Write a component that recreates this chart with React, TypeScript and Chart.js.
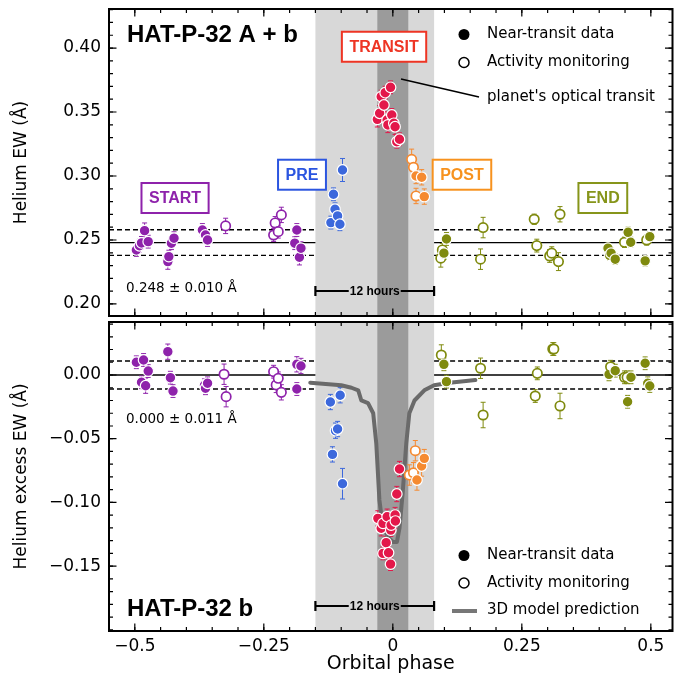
import React, { useEffect, useRef } from 'react';
import { Chart, registerables } from 'chart.js';

Chart.register(...registerables);

const SANS = '"DejaVu Sans", sans-serif';
const BOLD = '"Liberation Sans", Arial, sans-serif';

// ---------- axes ----------
const xRange = [-0.55, 0.542];
const topYRange = [0.1906, 0.4305];
const bottomYRange = [-0.2009, 0.0416];
const xTickValues = [-0.5, -0.25, 0, 0.25, 0.5];
const xTickLabels = ['\u22120.5', '\u22120.25', '0', '0.25', '0.5'];
const topYTickValues = [0.2, 0.25, 0.3, 0.35, 0.4];
const topYTickLabels = ['0.20', '0.25', '0.30', '0.35', '0.40'];
const bottomYTickValues = [-0.15, -0.1, -0.05, 0.0];
const bottomYTickLabels = ['\u22120.15', '\u22120.10', '\u22120.05', '0.00'];

// ---------- regions ----------
const shadeRegion = [-0.15, 0.08];
const opticalTransitRegion = [-0.03, 0.03];

// ---------- reference levels ----------
const topMean = 0.248;
const topStd = 0.01;
const bottomMean = 0.0;
const bottomStd = 0.011;

// ---------- TOP PANEL: Helium EW ----------
const startTopPhase = [-0.497, -0.491, -0.487, -0.481, -0.474, -0.436, -0.434, -0.429, -0.424, -0.369, -0.363, -0.359, -0.324, -0.231, -0.228, -0.222, -0.216, -0.19, -0.186, -0.181, -0.178];
const startTopEW = [0.2422, 0.2455, 0.2477, 0.2573, 0.2487, 0.2331, 0.237, 0.2475, 0.2514, 0.2578, 0.2539, 0.25, 0.261, 0.2539, 0.2633, 0.2565, 0.2696, 0.2475, 0.2578, 0.2365, 0.2436];
const startTopErr = [0.005, 0.005, 0.005, 0.006, 0.005, 0.006, 0.005, 0.005, 0.005, 0.005, 0.005, 0.005, 0.006, 0.005, 0.005, 0.005, 0.006, 0.005, 0.005, 0.006, 0.005];
const startTopOpen = [0, 0, 0, 0, 0, 0, 0, 0, 0, 0, 0, 0, 1, 1, 1, 1, 1, 0, 0, 0, 0];

const preTopPhase = [-0.12, -0.115, -0.112, -0.107, -0.1025, -0.0975];
const preTopEW = [0.2636, 0.2857, 0.274, 0.2688, 0.2623, 0.3047];
const preTopErr = [0.005, 0.005, 0.005, 0.005, 0.005, 0.009];
const preTopOpen = [0, 0, 0, 0, 0, 0];

const transitTopPhase = [-0.03, -0.0256, -0.0225, -0.0173, -0.0148, -0.011, -0.0096, -0.0044, -0.002, 0.002, 0.0044, 0.0077, 0.0129];
const transitTopEW = [0.3443, 0.349, 0.362, 0.3555, 0.3651, 0.3438, 0.3399, 0.3693, 0.3477, 0.3412, 0.3385, 0.3268, 0.3287];
const transitTopErr = [0.006, 0.006, 0.005, 0.005, 0.005, 0.006, 0.006, 0.005, 0.005, 0.006, 0.006, 0.005, 0.005];
const transitTopOpen = [0, 0, 0, 0, 0, 0, 0, 0, 0, 0, 0, 0, 0];

const postTopPhase = [0.0365, 0.04, 0.045, 0.045, 0.056, 0.061];
const postTopEW = [0.313, 0.3068, 0.3, 0.2844, 0.299, 0.2839];
const postTopErr = [0.008, 0.006, 0.006, 0.006, 0.006, 0.006];
const postTopOpen = [1, 1, 0, 1, 0, 0];

const endTopPhase = [0.093, 0.096, 0.099, 0.104, 0.17, 0.175, 0.274, 0.279, 0.304, 0.308, 0.321, 0.324, 0.417, 0.42, 0.423, 0.431, 0.449, 0.456, 0.461, 0.489, 0.492, 0.498];
const endTopEW = [0.2358, 0.2422, 0.2397, 0.2508, 0.235, 0.2597, 0.2662, 0.2456, 0.2375, 0.2397, 0.2331, 0.2701, 0.2436, 0.238, 0.2397, 0.235, 0.2482, 0.256, 0.2482, 0.2337, 0.25, 0.2526];
const endTopErr = [0.007, 0.005, 0.005, 0.005, 0.008, 0.008, 0.004, 0.005, 0.005, 0.005, 0.007, 0.006, 0.004, 0.004, 0.004, 0.004, 0.004, 0.004, 0.004, 0.004, 0.004, 0.004];
const endTopOpen = [1, 1, 0, 0, 1, 1, 1, 1, 1, 1, 1, 1, 0, 0, 0, 0, 1, 0, 0, 0, 1, 0];

// ---------- BOTTOM PANEL: Helium excess EW ----------
const startBotPhase = [-0.497, -0.487, -0.483, -0.479, -0.474, -0.436, -0.431, -0.426, -0.365, -0.363, -0.359, -0.327, -0.323, -0.231, -0.226, -0.222, -0.216, -0.186, -0.186, -0.178];
const startBotEW = [0.01, -0.0057, 0.0118, -0.0084, 0.0031, 0.0183, -0.0021, -0.0126, -0.008, -0.0104, -0.0065, 0.0006, -0.017, 0.0026, -0.0078, -0.0026, -0.0136, 0.0084, -0.011, 0.0071];
const startBotErr = [0.005, 0.005, 0.005, 0.006, 0.005, 0.006, 0.005, 0.005, 0.005, 0.005, 0.005, 0.008, 0.008, 0.005, 0.006, 0.005, 0.006, 0.006, 0.005, 0.006];
const startBotOpen = [0, 0, 0, 0, 0, 0, 0, 0, 0, 0, 0, 1, 1, 1, 1, 1, 1, 0, 0, 0];

const preBotPhase = [-0.121, -0.117, -0.111, -0.107, -0.102, -0.0975];
const preBotEW = [-0.0212, -0.0623, -0.0437, -0.0424, -0.0159, -0.0853];
const preBotErr = [0.006, 0.006, 0.006, 0.006, 0.006, 0.012];
const preBotOpen = [0, 0, 0, 0, 0, 0];

const transitBotPhase = [-0.029, -0.0225, -0.019, -0.019, -0.0129, -0.011, -0.0083, -0.0044, -0.004, -0.0033, 0.0044, 0.005, 0.0077, 0.0129];
const transitBotEW = [-0.1125, -0.1203, -0.1164, -0.14, -0.1316, -0.1112, -0.1395, -0.1484, -0.1217, -0.1178, -0.1099, -0.1146, -0.0934, -0.0738];
const transitBotErr = [0.006, 0.006, 0.006, 0.005, 0.005, 0.006, 0.005, 0.005, 0.005, 0.005, 0.006, 0.006, 0.006, 0.006];
const transitBotOpen = [0, 0, 0, 0, 0, 0, 0, 0, 0, 0, 0, 0, 0, 0];

const postBotPhase = [0.032, 0.04, 0.0436, 0.0468, 0.0558, 0.061];
const postBotEW = [-0.0785, -0.0767, -0.0594, -0.0824, -0.0714, -0.0654];
const postBotErr = [0.008, 0.008, 0.008, 0.008, 0.008, 0.007];
const postBotOpen = [1, 1, 1, 0, 0, 0];

const endBotPhase = [0.094, 0.099, 0.104, 0.17, 0.175, 0.276, 0.28, 0.31, 0.312, 0.324, 0.419, 0.422, 0.431, 0.449, 0.454, 0.455, 0.4615, 0.489, 0.494, 0.498];
const endBotEW = [0.0157, 0.0084, -0.0052, 0.0053, -0.0314, -0.0165, 0.0013, 0.0204, 0.0204, -0.0243, 0.0005, 0.0065, 0.0034, -0.0018, -0.0018, -0.021, -0.0018, 0.0092, -0.0065, -0.0086];
const endBotErr = [0.008, 0.005, 0.005, 0.008, 0.01, 0.005, 0.005, 0.005, 0.005, 0.01, 0.005, 0.005, 0.005, 0.005, 0.005, 0.005, 0.005, 0.005, 0.005, 0.005];
const endBotOpen = [1, 0, 0, 1, 1, 1, 1, 1, 1, 1, 0, 1, 0, 1, 1, 0, 0, 0, 0, 0];

// ---------- 3D model prediction ----------
const modelPhase = [-0.16, -0.13, -0.1, -0.08, -0.067, -0.061, -0.048, -0.038, -0.032, -0.026, -0.021, -0.01, 0.0, 0.008, 0.013, 0.019, 0.026, 0.032, 0.042, 0.061, 0.08, 0.11, 0.16];
const modelEW = [-0.006, -0.007, -0.008, -0.01, -0.012, -0.02, -0.022, -0.03, -0.054, -0.098, -0.114, -0.127, -0.131, -0.131, -0.12, -0.093, -0.054, -0.03, -0.02, -0.012, -0.008, -0.006, -0.004];

// ---------- colours ----------
const C_START = '#8e22ab';
const C_PRE = '#3c68dc';
const C_TRANSIT = '#e3184a';
const C_POST = '#f58a30';
const C_END = '#7f8a0e';

type Group = { color: string; phase: number[]; ew: number[]; err: number[]; open: number[] };

const topGroups: Group[] = [
  { color: C_START, phase: startTopPhase, ew: startTopEW, err: startTopErr, open: startTopOpen },
  { color: C_PRE, phase: preTopPhase, ew: preTopEW, err: preTopErr, open: preTopOpen },
  { color: C_TRANSIT, phase: transitTopPhase, ew: transitTopEW, err: transitTopErr, open: transitTopOpen },
  { color: C_POST, phase: postTopPhase, ew: postTopEW, err: postTopErr, open: postTopOpen },
  { color: C_END, phase: endTopPhase, ew: endTopEW, err: endTopErr, open: endTopOpen },
];
const bottomGroups: Group[] = [
  { color: C_START, phase: startBotPhase, ew: startBotEW, err: startBotErr, open: startBotOpen },
  { color: C_PRE, phase: preBotPhase, ew: preBotEW, err: preBotErr, open: preBotOpen },
  { color: C_TRANSIT, phase: transitBotPhase, ew: transitBotEW, err: transitBotErr, open: transitBotOpen },
  { color: C_POST, phase: postBotPhase, ew: postBotEW, err: postBotErr, open: postBotOpen },
  { color: C_END, phase: endBotPhase, ew: endBotEW, err: endBotErr, open: endBotOpen },
];

const phaseLabels = [
  { text: 'START', x: -0.422, y: 0.2828, color: '#8e22ab' },
  { text: 'PRE', x: -0.176, y: 0.301, color: '#2b55e0' },
  { text: 'TRANSIT', x: -0.017, y: 0.401, color: '#ee3524' },
  { text: 'POST', x: 0.134, y: 0.301, color: '#f7921e' },
  { text: 'END', x: 0.407, y: 0.2828, color: '#86951a' },
];

function makeDataset(g: Group) {
  return {
    data: g.phase.map((x, i) => ({ x, y: g.ew[i] })),
    errors: g.err,
    errColor: g.color,
    pointBackgroundColor: g.open.map((o) => (o ? '#ffffff' : g.color)),
    pointBorderColor: g.open.map((o) => (o ? g.color : '#ffffff')),
    pointBorderWidth: g.open.map((o) => (o ? 1.7 : 1.2)),
    pointRadius: g.open.map((o) => (o ? 4.7 : 5.3)),
    pointHoverRadius: 0,
    order: 0,
  };
}

function makeDecor(p: any) {
  return {
    id: 'decor',
    beforeDatasetsDraw(chart: any) {
      const { ctx, chartArea: a, scales } = chart;
      const xs = scales.x;
      const ys = scales.y;
      ctx.save();
      const s0 = xs.getPixelForValue(shadeRegion[0]);
      const s1 = xs.getPixelForValue(shadeRegion[1]);
      ctx.fillStyle = '#d8d8d8';
      ctx.fillRect(s0, a.top, s1 - s0, a.bottom - a.top);
      const d0 = xs.getPixelForValue(opticalTransitRegion[0]);
      const d1 = xs.getPixelForValue(opticalTransitRegion[1]);
      ctx.fillStyle = '#9b9b9b';
      ctx.fillRect(d0, a.top, d1 - d0, a.bottom - a.top);

      // reference lines
      const segs = [
        [a.left, s0],
        [s1, a.right],
      ];
      const lines: [number, number[]][] = [
        [p.mean, []],
        [p.mean + p.std, [5, 3]],
        [p.mean - p.std, [5, 3]],
      ];
      ctx.strokeStyle = '#000';
      ctx.lineWidth = 1.3;
      lines.forEach(([v, dash]) => {
        const py = ys.getPixelForValue(v);
        ctx.setLineDash(dash);
        segs.forEach(([x0, x1]) => {
          ctx.beginPath();
          ctx.moveTo(x0, py);
          ctx.lineTo(x1, py);
          ctx.stroke();
        });
      });
      ctx.setLineDash([]);

      // 12 hours bar
      const by = a.bottom - 25;
      ctx.font = `bold 12px ${BOLD}`;
      const lab = '12 hours';
      const tw = ctx.measureText(lab).width;
      const mid = (s0 + s1) / 2;
      ctx.lineWidth = 2.2;
      ctx.beginPath();
      ctx.moveTo(s0, by);
      ctx.lineTo(mid - tw / 2 - 1, by);
      ctx.moveTo(mid + tw / 2 + 1, by);
      ctx.lineTo(s1, by);
      ctx.moveTo(s0, by - 5);
      ctx.lineTo(s0, by + 5);
      ctx.moveTo(s1, by - 5);
      ctx.lineTo(s1, by + 5);
      ctx.stroke();
      ctx.fillStyle = '#000';
      ctx.textAlign = 'center';
      ctx.textBaseline = 'middle';
      ctx.fillText(lab, mid, by + 0.5);

      // error bars
      chart.data.datasets.forEach((ds: any) => {
        if (!ds.errors) return;
        ctx.strokeStyle = ds.errColor;
        ctx.lineWidth = 1;
        ds.data.forEach((pt: any, i: number) => {
          const px = xs.getPixelForValue(pt.x);
          const y0 = ys.getPixelForValue(pt.y - ds.errors[i]);
          const y1 = ys.getPixelForValue(pt.y + ds.errors[i]);
          ctx.beginPath();
          ctx.moveTo(px, y0);
          ctx.lineTo(px, y1);
          ctx.moveTo(px - 2.5, y0);
          ctx.lineTo(px + 2.5, y0);
          ctx.moveTo(px - 2.5, y1);
          ctx.lineTo(px + 2.5, y1);
          ctx.stroke();
        });
      });
      ctx.restore();
    },
    afterDraw(chart: any) {
      const { ctx, chartArea: a, scales } = chart;
      const xs = scales.x;
      const ys = scales.y;
      ctx.save();
      // frame
      ctx.strokeStyle = '#000';
      ctx.lineWidth = 2;
      ctx.strokeRect(a.left, a.top, a.right - a.left, a.bottom - a.top);
      // ticks
      ctx.lineWidth = 1.2;
      const tick = (px: number, len: number, vertical: boolean) => {
        ctx.beginPath();
        if (vertical) {
          ctx.moveTo(px, a.bottom);
          ctx.lineTo(px, a.bottom - len);
          ctx.moveTo(px, a.top);
          ctx.lineTo(px, a.top + len);
        } else {
          ctx.moveTo(a.left, px);
          ctx.lineTo(a.left + len, px);
          ctx.moveTo(a.right, px);
          ctx.lineTo(a.right - len, px);
        }
        ctx.stroke();
      };
      for (let k = -11; k <= 10; k++) {
        const v = k * 0.05;
        if (v < xs.min || v > xs.max) continue;
        tick(xs.getPixelForValue(v), 4, true);
      }
      xTickValues.forEach((v) => tick(xs.getPixelForValue(v), 7.5, true));
      for (let k = Math.ceil(ys.min * 100); k <= Math.floor(ys.max * 100); k++) {
        tick(ys.getPixelForValue(k / 100), 4, false);
      }
      p.yTicks.forEach((v: number) => tick(ys.getPixelForValue(v), 7.5, false));

      // title
      ctx.fillStyle = '#000';
      ctx.textAlign = 'left';
      ctx.textBaseline = 'alphabetic';
      ctx.font = `bold 24px ${BOLD}`;
      ctx.fillText(p.title, a.left + 18, p.titleY);
      // stat text
      ctx.font = `13.5px ${SANS}`;
      ctx.fillText(p.statText, a.left + 17, p.statY);

      // phase labels
      (p.boxes || []).forEach((b: any) => {
        ctx.font = `bold 16px ${BOLD}`;
        const tw = ctx.measureText(b.text).width;
        const cx = xs.getPixelForValue(b.x);
        const cy = ys.getPixelForValue(b.y);
        const w = tw + 15;
        const h = 30;
        ctx.fillStyle = '#fff';
        ctx.fillRect(cx - w / 2, cy - h / 2, w, h);
        ctx.lineWidth = 2;
        ctx.strokeStyle = b.color;
        ctx.strokeRect(cx - w / 2, cy - h / 2, w, h);
        ctx.fillStyle = b.color;
        ctx.textAlign = 'center';
        ctx.textBaseline = 'middle';
        ctx.fillText(b.text, cx, cy + 1);
      });

      // legend
      ctx.textAlign = 'left';
      ctx.textBaseline = 'middle';
      ctx.font = `15px ${SANS}`;
      p.legend.forEach((it: any) => {
        ctx.fillStyle = '#000';
        ctx.strokeStyle = '#000';
        if (it.kind === 'filled') {
          ctx.beginPath();
          ctx.arc(464, it.y, 5.5, 0, Math.PI * 2);
          ctx.fill();
        } else if (it.kind === 'open') {
          ctx.lineWidth = 1.5;
          ctx.beginPath();
          ctx.arc(464, it.y, 5, 0, Math.PI * 2);
          ctx.stroke();
        } else if (it.kind === 'line') {
          ctx.lineWidth = 4;
          ctx.strokeStyle = '#777';
          ctx.beginPath();
          ctx.moveTo(452, it.y + 1);
          ctx.lineTo(477, it.y + 1);
          ctx.stroke();
        } else if (it.kind === 'pointer') {
          ctx.lineWidth = 1.5;
          ctx.beginPath();
          ctx.moveTo(401, 79);
          ctx.lineTo(479, it.y);
          ctx.stroke();
        }
        ctx.fillStyle = '#000';
        ctx.fillText(it.text, 487, it.y);
      });

      // y title
      ctx.save();
      ctx.font = `17px ${SANS}`;
      ctx.textAlign = 'center';
      ctx.textBaseline = 'middle';
      ctx.translate(22, (a.top + a.bottom) / 2);
      ctx.rotate(-Math.PI / 2);
      ctx.fillText(p.yTitle, 0, 0);
      ctx.restore();

      if (p.xTitle) {
        ctx.font = `19px ${SANS}`;
        ctx.textAlign = 'center';
        ctx.textBaseline = 'middle';
        ctx.fillText(p.xTitle, (a.left + a.right) / 2, p.xTitleY);
      }
      ctx.restore();
    },
  };
}

function makeConfig(p: any): any {
  const datasets: any[] = p.groups.map(makeDataset);
  if (p.model) {
    datasets.push({
      data: modelPhase.map((x, i) => ({ x, y: modelEW[i] })),
      showLine: true,
      borderColor: '#6a6a6a',
      borderWidth: 4,
      pointRadius: 0,
      pointHoverRadius: 0,
      borderJoinStyle: 'round',
      borderCapStyle: 'round',
      order: 5,
    });
  }
  return {
    type: 'scatter',
    data: { datasets },
    options: {
      responsive: false,
      animation: false,
      devicePixelRatio: 1,
      events: [],
      layout: { padding: p.padding },
      plugins: { legend: { display: false }, tooltip: { enabled: false } },
      scales: {
        x: {
          type: 'linear',
          min: xRange[0],
          max: xRange[1],
          display: p.showX,
          grid: { display: false, drawTicks: false },
          border: { display: false },
          afterBuildTicks: (s: any) => {
            s.ticks = xTickValues.map((v) => ({ value: v }));
          },
          ticks: {
            autoSkip: false,
            maxRotation: 0,
            minRotation: 0,
            padding: 5,
            color: '#000',
            font: { family: SANS, size: 17 },
            callback: (v: number) => xTickLabels[xTickValues.indexOf(v)],
          },
          afterFit: (s: any) => {
            s.height = p.showX ? 44 : 0;
            s.paddingLeft = 0;
            s.paddingRight = 0;
          },
        },
        y: {
          type: 'linear',
          min: p.yRange[0],
          max: p.yRange[1],
          grid: { display: false, drawTicks: false },
          border: { display: false },
          afterBuildTicks: (s: any) => {
            s.ticks = p.yTicks.map((v: number) => ({ value: v }));
          },
          ticks: {
            autoSkip: false,
            padding: 8,
            color: '#000',
            font: { family: SANS, size: 17 },
            callback: (v: number) => p.yTickLabels[p.yTicks.indexOf(v)],
          },
          afterFit: (s: any) => {
            s.width = 109;
            s.paddingTop = 0;
            s.paddingBottom = 0;
          },
        },
      },
    },
    plugins: [makeDecor(p)],
  };
}

const TOP_HEIGHT = 328;
const BOT_OFFSET = 310;

const topPanel = {
  groups: topGroups,
  model: false,
  showX: false,
  padding: { top: 9, bottom: TOP_HEIGHT - 316, left: 0, right: 2 },
  yRange: topYRange,
  yTicks: topYTickValues,
  yTickLabels: topYTickLabels,
  mean: topMean,
  std: topStd,
  title: 'HAT-P-32 A + b',
  titleY: 42,
  statText: `${topMean.toFixed(3)} \u00b1 ${topStd.toFixed(3)} \u00c5`,
  statY: 292,
  boxes: phaseLabels,
  legend: [
    { kind: 'filled', text: 'Near-transit data', y: 34.5 },
    { kind: 'open', text: 'Activity monitoring', y: 62.5 },
    { kind: 'pointer', text: "planet's optical transit", y: 97 },
  ],
  yTitle: 'Helium EW (\u00c5)',
};

const bottomPanel = {
  groups: bottomGroups,
  model: true,
  showX: true,
  padding: { top: 322 - BOT_OFFSET, bottom: 0, left: 0, right: 2 },
  yRange: bottomYRange,
  yTicks: bottomYTickValues,
  yTickLabels: bottomYTickLabels,
  mean: bottomMean,
  std: bottomStd,
  title: 'HAT-P-32 b',
  titleY: 616 - BOT_OFFSET,
  statText: `${bottomMean.toFixed(3)} \u00b1 ${bottomStd.toFixed(3)} \u00c5`,
  statY: 423 - BOT_OFFSET,
  boxes: [],
  legend: [
    { kind: 'filled', text: 'Near-transit data', y: 555.5 - BOT_OFFSET },
    { kind: 'open', text: 'Activity monitoring', y: 583 - BOT_OFFSET },
    { kind: 'line', text: '3D model prediction', y: 610 - BOT_OFFSET },
  ],
  yTitle: 'Helium excess EW (\u00c5)',
  xTitle: 'Orbital phase',
  xTitleY: 664 - BOT_OFFSET,
};

export default function App() {
  const topRef = useRef<HTMLCanvasElement>(null);
  const botRef = useRef<HTMLCanvasElement>(null);
  useEffect(() => {
    const c1 = new Chart(topRef.current as HTMLCanvasElement, makeConfig(topPanel));
    const c2 = new Chart(botRef.current as HTMLCanvasElement, makeConfig(bottomPanel));
    return () => {
      c1.destroy();
      c2.destroy();
    };
  }, []);
  return (
    <div style={{ position: 'fixed', left: 0, top: 0, width: 679, height: 675, background: '#fff' }}>
      <canvas ref={topRef} width={679} height={TOP_HEIGHT} style={{ position: 'absolute', left: 0, top: 0 }} />
      <canvas ref={botRef} width={679} height={675 - BOT_OFFSET} style={{ position: 'absolute', left: 0, top: BOT_OFFSET }} />
    </div>
  );
}
